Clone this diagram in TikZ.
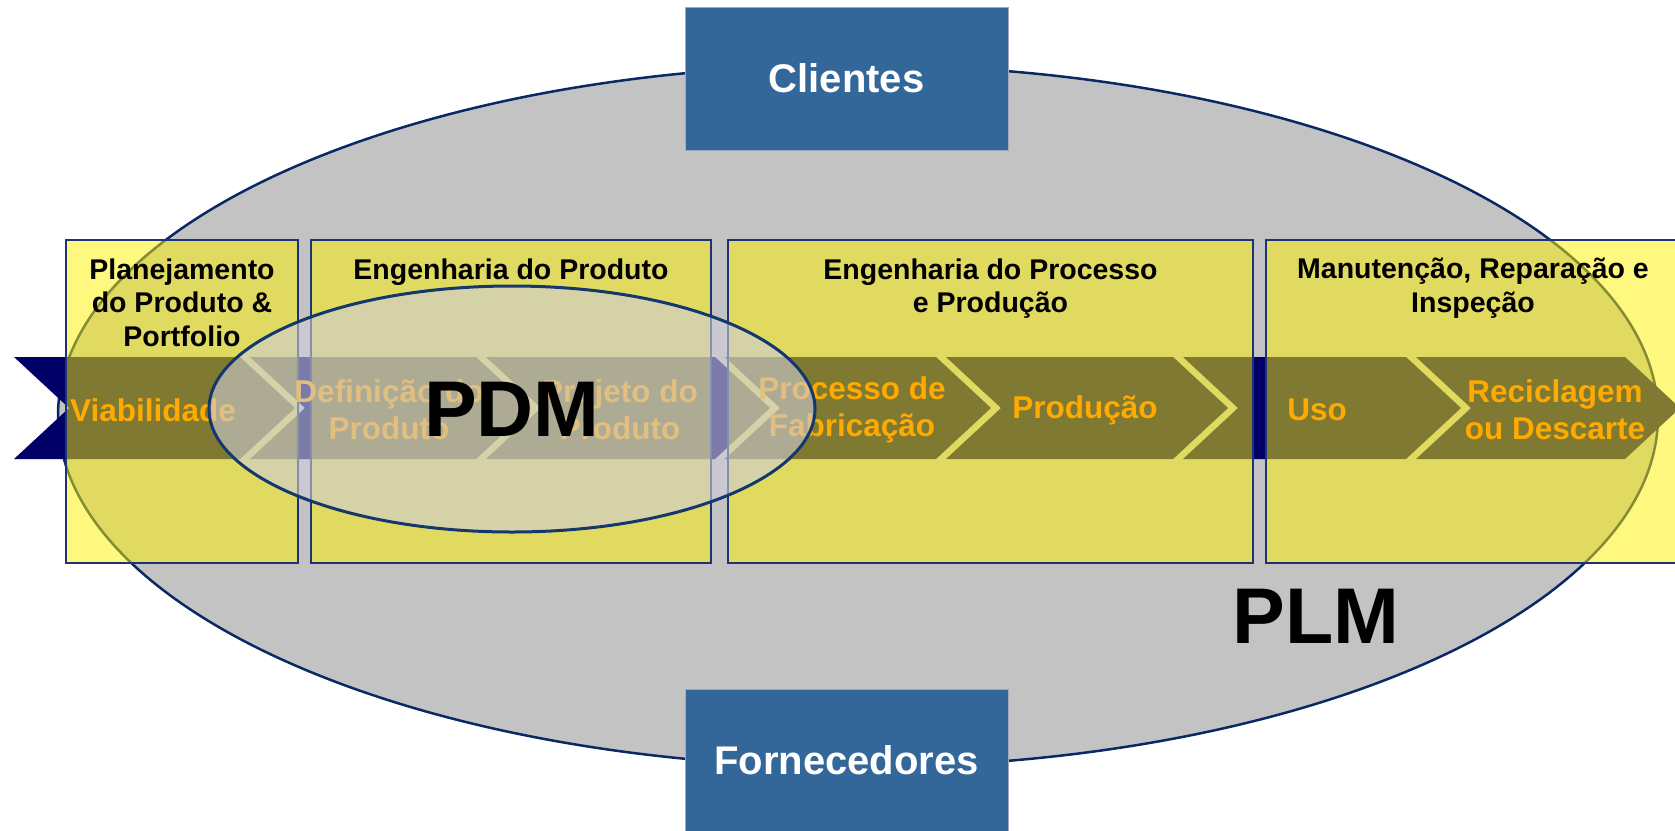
\documentclass[tikz,border=0pt]{standalone}
\usepackage{fontspec}
\setmainfont{Liberation Sans}
\usetikzlibrary{positioning,shapes.geometric}

\definecolor{plmgray}{RGB}{195,195,195}
\definecolor{plmline}{RGB}{10,40,100}
\definecolor{navyband}{RGB}{0,0,102}
\definecolor{boxline}{RGB}{30,50,120}
\definecolor{stageorange}{RGB}{255,170,0}
\definecolor{pdmfill}{RGB}{205,205,215}
\definecolor{pdmline}{RGB}{20,55,110}
\definecolor{partnerblue}{RGB}{51,102,153}
\definecolor{partnerline}{RGB}{160,170,185}

\begin{document}
\begin{tikzpicture}[x=1pt, y=-1pt,
  plmoval/.style = {ellipse, fill=plmgray, draw=plmline, line width=2.5pt, inner sep=0pt},
  phase/.style = {draw=boxline, line width=1.5pt, fill=yellow, fill opacity=0.5,
                  minimum width=#1, minimum height=323pt, inner sep=0pt},
  header/.style = {font=\bfseries\fontsize{28.5}{33.5}\selectfont, align=center, inner sep=0pt},
  band/.style = {fill=navyband},
  stage/.style = {text=stageorange, font=\bfseries\fontsize{31.5}{37}\selectfont, align=center, inner sep=0pt},
  pdmoval/.style = {ellipse, fill=pdmfill, fill opacity=0.6, text opacity=1, draw=pdmline,
                    line width=3pt, minimum width=606pt, minimum height=246pt, inner sep=0pt},
  bigtext/.style = {font=\bfseries\fontsize{79}{80}\selectfont, inner sep=0pt},
  partner/.style = {fill=partnerblue, draw=partnerline, line width=1pt, text=white,
                    minimum width=323pt, minimum height=143pt,
                    font=\bfseries\fontsize{40}{44}\selectfont},
  ]
  \useasboundingbox (0,0) rectangle (1675,830);

  \node[plmoval, minimum width=1600pt, minimum height=702pt] (plm) at (858,416) {};

  \foreach \l/\r in {14/240, 250/476, 486/715, 725/936, 946/1173, 1183/1406, 1416/1625}
    \fill[band] (\l,357) -- (\r,357) -- (\r+55,408) -- (\r,459) -- (\l,459) -- (\l+55,408) -- cycle;

  \node[phase=232pt] (plan) at (182,401.5) {};
  \node[phase=400pt] (eng) at (511,401.5) {};
  \node[phase=525pt] (proc) at (990.5,401.5) {};
  \node[phase=414pt] (mro) at (1473,401.5) {};

  \node[header, below=19pt of plan.north] (plantitle) {Planejamento\\do Produto \&\\Portfolio};
  \node[header, below=19pt of eng.north] (engtitle) {Engenharia do Produto};
  \node[header, below=19pt of proc.north] (proctitle) {Engenharia do Processo\\e Produção};
  \node[header, below=19pt of mro.north] (mrotitle) {Manutenção, Reparação e\\Inspeção};

  \foreach \x/\name/\txt in {153/viab/Viabilidade, 389/defin/{Definição do\\Produto},
      620/proj/{Projeto do\\Produto}, 852/fabr/{Processo de\\Fabricação},
      1085/prod/Produção, 1317/uso/Uso, 1555/recic/{Reciclagem\\ou Descarte}}
    \node[stage] (\name) at (\x,410) {\txt};

  \node[pdmoval, font=\bfseries\fontsize{79}{80}\selectfont] (pdm) at (512,409) {PDM};
  \node[bigtext] (plmtext) at (1316,616) {PLM};

  \node[partner] (clientes) at (846.5,78.5) {Clientes};
  \node[partner] (fornecedores) at (846.5,760.5) {Fornecedores};
\end{tikzpicture}
\end{document}
